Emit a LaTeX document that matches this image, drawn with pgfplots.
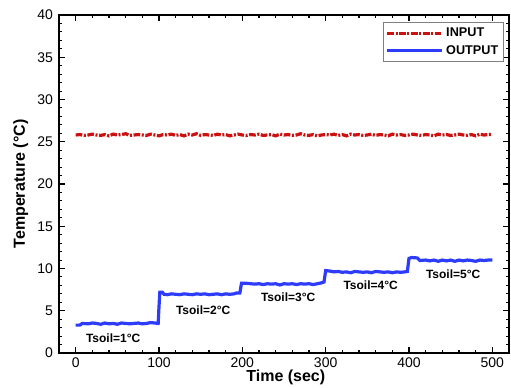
\documentclass[border=0pt]{standalone}
\usepackage{fontspec}
\setmainfont{Liberation Sans}
\usepackage{pgfplots}
\pgfplotsset{compat=1.18}
\definecolor{inred}{RGB}{204,17,17}
\definecolor{outblue}{RGB}{45,60,250}
\begin{document}
\begin{tikzpicture}
\begin{axis}[
  at={(0,0)}, anchor=south west,
  scale only axis,
  width=337.5pt, height=253.5pt,
  xmin=-20, xmax=520, ymin=0, ymax=40,
  xtick={0,100,...,500}, ytick={0,5,...,40},
  minor x tick num=4, minor y tick num=4,
  tick align=inside,
  major tick length=4.5pt, minor tick length=2.25pt,
  tick style={black, line width=0.8pt},
  axis line style={line width=1.3pt},
  /pgf/number format/assume math mode=true,
  tick label style={font=\fontsize{10.5}{12}\selectfont},
  yticklabel style={xshift=-1pt},
  xlabel={Time (sec)}, ylabel={Temperature (°C)},
  label style={font=\fontsize{12}{14}\selectfont\bfseries},
  xlabel style={at={(axis description cs:0.504,-0.071)}, anchor=center},
  ylabel style={at={(axis description cs:-0.085,0.5)}, anchor=center, rotate=0},
  legend style={at={(0.989,0.979)}, anchor=north east, draw=gray, line width=0.6pt,
    font=\fontsize{9.5}{11}\selectfont\bfseries, inner sep=2pt, row sep=1pt},
  legend cell align=left,
  legend image code/.code={\draw[#1] (0pt,0pt) -- (41pt,0pt);},
]
\addplot[inred, line width=2.4pt, dash pattern=on 5pt off 1.2pt on 1.5pt off 1.2pt] coordinates {
(0,25.8)(5,25.85)(10,25.75)(15,25.8)(20,25.9)(25,25.8)(30,25.75)(35,25.85)(40,25.7)(45,25.9)
(50,25.8)(55,25.85)(60,25.95)(65,25.75)(70,25.8)(75,25.85)(80,25.8)(85,25.75)(90,25.9)(95,25.8)
(100,25.7)(105,25.85)(110,25.8)(115,25.9)(120,25.75)(125,25.85)(130,25.7)(135,25.9)(140,25.8)(145,25.95)
(150,25.75)(155,25.85)(160,25.8)(165,25.75)(170,25.9)(175,25.8)(180,25.85)(185,25.7)(190,25.8)(195,25.9)
(200,25.8)(205,25.75)(210,25.85)(215,25.8)(220,25.9)(225,25.75)(230,25.8)(235,25.85)(240,25.7)(245,25.9)
(250,25.8)(255,25.85)(260,25.75)(265,25.8)(270,25.95)(275,25.8)(280,25.75)(285,25.85)(290,25.7)(295,25.8)
(300,25.85)(305,25.8)(310,25.9)(315,25.75)(320,25.85)(325,25.7)(330,25.9)(335,25.8)(340,25.85)(345,25.75)
(350,25.8)(355,25.9)(360,25.75)(365,25.85)(370,25.8)(375,25.7)(380,25.9)(385,25.8)(390,25.85)(395,25.75)
(400,25.8)(405,25.9)(410,25.8)(415,25.75)(420,25.85)(425,25.8)(430,25.7)(435,25.9)(440,25.8)(445,25.85)
(450,25.75)(455,25.8)(460,25.9)(465,25.8)(470,25.75)(475,25.85)(480,25.7)(485,25.9)(490,25.8)(495,25.85)
(500,25.85)
};
\addlegendentry{INPUT}
\addplot[outblue, line width=2.4pt] coordinates {
(0,3.3)(5,3.3)(8,3.5)(15,3.45)(20,3.55)(25,3.5)(30,3.4)(35,3.55)(40,3.45)(45,3.5)
(50,3.4)(55,3.55)(60,3.5)(65,3.45)(70,3.5)(75,3.55)(80,3.45)(85,3.5)(90,3.6)(95,3.55)(99,3.5)
(100,5.5)(101,7.2)(104,7.2)(106,6.95)(110,6.9)(115,7.0)(120,6.95)(125,6.9)(130,7.0)(135,6.95)
(140,6.9)(145,7.0)(150,6.95)(155,7.0)(160,6.9)(165,6.95)(170,7.0)(175,6.9)(180,7.0)(185,6.95)(190,7.0)
(193,7.1)(197,7.1)(199,8.25)(205,8.25)(210,8.2)(215,8.15)(220,8.2)(225,8.1)(230,8.2)(235,8.15)
(240,8.2)(245,8.05)(250,8.2)(255,8.15)(260,8.2)(265,8.1)(270,8.2)(275,8.15)(280,8.2)(285,8.1)(290,8.2)(295,8.3)(298,8.4)
(300,9.75)(305,9.7)(310,9.6)(315,9.65)(320,9.55)(325,9.6)(330,9.5)(335,9.65)(340,9.6)(345,9.55)
(350,9.6)(355,9.5)(360,9.65)(365,9.6)(370,9.55)(375,9.6)(380,9.5)(385,9.6)(390,9.55)(395,9.6)(398,9.65)
(400,11.2)(403,11.3)(410,11.25)(413,10.95)(420,11.0)(425,10.9)(430,11.0)(435,10.85)(440,11.0)(445,10.9)
(450,11.0)(455,10.85)(460,11.0)(465,10.9)(470,11.0)(475,10.95)(480,10.85)(485,11.0)(490,10.95)(495,11.0)(500,11.0)
};
\addlegendentry{OUTPUT}
\node[font=\fontsize{9}{11}\selectfont\bfseries] at (axis cs:45,1.8) {Tsoil=1°C};
\node[font=\fontsize{9}{11}\selectfont\bfseries] at (axis cs:153,5.1) {Tsoil=2°C};
\node[font=\fontsize{9}{11}\selectfont\bfseries] at (axis cs:255,6.6) {Tsoil=3°C};
\node[font=\fontsize{9}{11}\selectfont\bfseries] at (axis cs:354,8.0) {Tsoil=4°C};
\node[font=\fontsize{9}{11}\selectfont\bfseries] at (axis cs:453,9.3) {Tsoil=5°C};
\end{axis}
\pgfresetboundingbox
\path[use as bounding box] (-44.25pt,-25.5pt) rectangle (339pt,264.75pt);
\end{tikzpicture}
\end{document}
